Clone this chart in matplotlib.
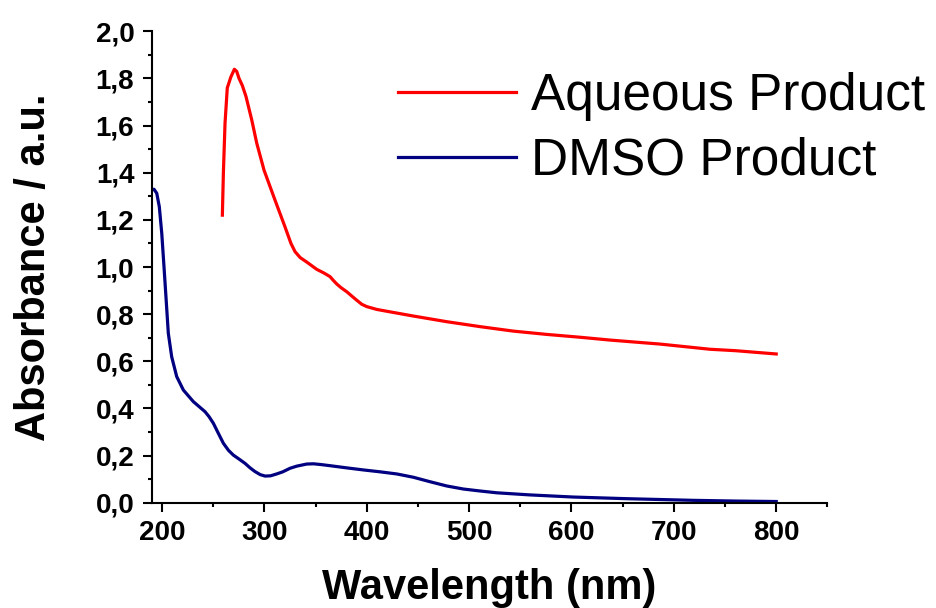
import matplotlib
matplotlib.use("Agg")
import matplotlib.pyplot as plt
from matplotlib.ticker import MultipleLocator, FuncFormatter

plt.rcParams['font.family'] = ['Liberation Sans', 'DejaVu Sans']

# Aqueous product spectrum
aq_wl = [259, 260, 261.6, 263.8, 267.2, 270.7, 273, 275.3, 278.5, 282.1,
         287.7, 292.6, 299.7, 310.4, 320.2, 326, 330, 335, 341.4, 351.2,
         358, 364.2, 367, 370.7, 375, 380.5, 388.6, 395.1, 400, 409.8,
         425, 445.5, 478.1, 510.7, 543.2, 575.8, 608.3, 637.6, 686.5, 735.3,
         760, 800]
aq_abs = [1.22, 1.40, 1.61, 1.76, 1.805, 1.839, 1.83, 1.80, 1.77, 1.723,
          1.624, 1.525, 1.411, 1.284, 1.17, 1.10, 1.065, 1.04, 1.021, 0.99,
          0.975, 0.959, 0.945, 0.928, 0.912, 0.895, 0.865, 0.842, 0.832, 0.820,
          0.808, 0.792, 0.768, 0.747, 0.728, 0.714, 0.702, 0.690, 0.673, 0.651,
          0.645, 0.631]

# DMSO product spectrum
dmso_wl = [190, 192.2, 194.9, 197.4, 199.8, 202, 204, 206.2, 209.5, 214.4,
           220.9, 230.6, 242.1, 246, 250.2, 255, 260, 265, 269.7, 275,
           281.1, 286, 290.9, 296, 300.7, 306, 312.1, 318, 325.1, 331.6,
           341.4, 347.9, 355, 364.2, 380, 396.7, 413, 429.3, 445.5, 461.8,
           478.1, 494.4, 510, 527, 559.5, 601.8, 654, 719, 760, 800]
dmso_abs = [1.327, 1.330, 1.313, 1.256, 1.143, 1.0, 0.867, 0.719, 0.619, 0.535,
            0.478, 0.429, 0.386, 0.365, 0.337, 0.295, 0.252, 0.222, 0.202, 0.186,
            0.167, 0.148, 0.132, 0.119, 0.113, 0.114, 0.122, 0.131, 0.146, 0.155,
            0.164, 0.165, 0.162, 0.157, 0.148, 0.139, 0.131, 0.122, 0.108, 0.089,
            0.071, 0.058, 0.050, 0.042, 0.033, 0.024, 0.017, 0.010, 0.007, 0.005]

fig = plt.figure(figsize=(9.36, 6.08), dpi=100)
ax = fig.add_axes([0.1621, 0.1732, 0.7219, 0.7753])

ax.plot(aq_wl, aq_abs, color='#ff0000', lw=2.3, label='Aqueous Product')
ax.plot(dmso_wl, dmso_abs, color='#000080', lw=2.3, label='DMSO Product')

ax.set_xlim(190, 850)
ax.set_ylim(0, 2.0)

for side in ['top', 'right']:
    ax.spines[side].set_visible(False)
for side in ['left', 'bottom']:
    ax.spines[side].set_linewidth(1.5)

ax.xaxis.set_major_locator(MultipleLocator(100))
ax.xaxis.set_minor_locator(MultipleLocator(50))
ax.yaxis.set_major_locator(MultipleLocator(0.2))
ax.yaxis.set_minor_locator(MultipleLocator(0.1))
ax.yaxis.set_major_formatter(FuncFormatter(lambda v, p: f"{v:.1f}".replace('.', ',')))

ax.tick_params(which='major', direction='out', length=6.5, width=1.5, pad=6)
ax.tick_params(which='minor', direction='out', length=3, width=1.5)
ax.tick_params(axis='x', labelsize=20)
ax.tick_params(axis='y', labelsize=20)
for lbl in ax.get_xticklabels() + ax.get_yticklabels():
    lbl.set_fontweight('bold')

ax.set_xlabel('Wavelength (nm)', fontsize=30, fontweight='bold', labelpad=16)
ax.set_ylabel('Absorbance / a.u.', fontsize=30, fontweight='bold', labelpad=30)

ax.legend(loc='center left', bbox_to_anchor=(398 / 936, 1 - 129 / 608),
          bbox_transform=fig.transFigure, frameon=False, fontsize=37,
          handlelength=2.29, handletextpad=0.3, labelspacing=0.3,
          borderpad=0, borderaxespad=0)

fig.savefig('out.png', dpi=100)
